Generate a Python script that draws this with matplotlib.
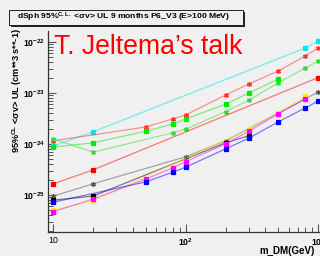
import matplotlib
matplotlib.use("Agg")
import matplotlib.pyplot as plt
from matplotlib.patches import Rectangle
import numpy as np

plt.rcParams['font.family'] = ['Liberation Sans', 'DejaVu Sans']
plt.rcParams['mathtext.fontset'] = 'custom'
plt.rcParams['mathtext.rm'] = 'Liberation Sans:bold'
plt.rcParams['mathtext.it'] = 'Liberation Sans:bold'
plt.rcParams['mathtext.bf'] = 'Liberation Sans:bold'

BG = '#f0f0f0'

# "data" (mass in GeV, UL in cm^3 s^-1)
cyan_x = [10, 20, 800, 1000]
cyan_y = [9.1e-25, 1.73e-24, 7.6e-23, 1.05e-22]

red_star_x = [10, 50, 80, 100, 200, 300, 500, 800, 1000]
red_star_y = [1.15e-24, 2.15e-24, 3.1e-24, 3.7e-24, 9.1e-24, 1.5e-23, 2.7e-23, 5.3e-23, 7.6e-23]

green_sq_x = [10, 20, 50, 80, 100, 200, 300, 500]
green_sq_y = [8.7e-25, 1.05e-24, 1.78e-24, 2.45e-24, 3.1e-24, 6.0e-24, 1.0e-23, 1.87e-23]

green_star_x = [10, 20, 80, 100, 200, 300, 500, 800, 1000]
green_star_y = [1.25e-24, 6.9e-25, 1.65e-24, 1.95e-24, 4.3e-24, 7.2e-24, 1.58e-23, 3.1e-23, 4.2e-23]

red_sq_x = [10, 20, 1000]
red_sq_y = [1.65e-25, 3.1e-25, 2.0e-23]

gray_star_x = [10, 20, 100, 200, 1000]
gray_star_y = [9.5e-26, 1.65e-25, 5.6e-25, 1.15e-24, 1.04e-23]

black_sq_x = [10, 20, 200, 300]
black_sq_y = [7.9e-26, 9.5e-26, 1.05e-24, 1.45e-24]

yellow_x = [10, 20, 300, 500, 800]
yellow_y = [5.1e-26, 7.6e-26, 1.95e-24, 4.1e-24, 8.7e-24]

magenta_x = [10, 20, 50, 80, 100, 200, 300, 500, 800]
magenta_y = [4.7e-26, 8.3e-26, 2.05e-25, 3.4e-25, 4.5e-25, 1.0e-24, 1.78e-24, 3.9e-24, 7.6e-24]

blue_x = [10, 50, 80, 100, 200, 300, 500, 800, 1000]
blue_y = [7.2e-26, 1.8e-25, 2.8e-25, 3.5e-25, 8.0e-25, 1.3e-24, 2.7e-24, 5.1e-24, 6.9e-24]

series = [
    (cyan_x, cyan_y, '#00e8e8', 's'),
    (red_star_x, red_star_y, '#ff3030', (6, 2, 0)),
    (green_sq_x, green_sq_y, '#00ee00', 's'),
    (green_star_x, green_star_y, '#30e030', (6, 2, 0)),
    (red_sq_x, red_sq_y, '#ff0000', 's'),
    (gray_star_x, gray_star_y, '#555555', (6, 2, 0)),
    (black_sq_x, black_sq_y, '#000000', 's'),
    (yellow_x, yellow_y, '#ffee00', 's'),
    (magenta_x, magenta_y, '#ff00ff', 's'),
    (blue_x, blue_y, '#0000ff', 's'),
]

fig = plt.figure(figsize=(3.2, 2.56), dpi=100, facecolor=BG)
ax = fig.add_axes([0.15, 0.094, 0.85, 0.785], facecolor=BG)

for xs, ys, c, m in series:
    ax.plot(xs, ys, color=c, lw=0.9, alpha=0.5)
    ms = 2.8 if m == 's' else 3.6
    ax.plot(xs, ys, ls='none', marker=m, color=c, ms=ms, mew=0.9)

ax.set_xscale('log')
ax.set_yscale('log')
ax.set_xlim(9.12, 10**3.014)
ax.set_ylim(1.88e-26, 1.64e-22)

ax.set_xticks([10, 100, 1000])
ax.set_xticklabels(['10', '$10^{2}$', '$10^{3}$'])
ax.set_yticks([1e-25, 1e-24, 1e-23, 1e-22])
ax.set_yticklabels(['$10^{-25}$', '$10^{-24}$', '$10^{-23}$', '$10^{-22}$'])

ax.tick_params(which='both', direction='in', colors='#555555', labelcolor='black',
               labelsize=6.3, top=False, right=False)
ax.tick_params(which='major', length=5.5, width=0.8)
ax.tick_params(which='minor', length=3.5, width=0.7)
ax.tick_params(axis='x', pad=3)
ax.tick_params(axis='y', pad=2)
for s in ['top', 'right']:
    ax.spines[s].set_visible(False)
for s in ['left', 'bottom']:
    ax.spines[s].set_color('#333333')
    ax.spines[s].set_linewidth(0.9)

# title box with shadow, ROOT style
fig.patches.append(Rectangle((11 / 320, 0.895), 234 / 320, 0.0586,
                             transform=fig.transFigure, facecolor='#222222',
                             edgecolor='none', zorder=1))
fig.patches.append(Rectangle((9 / 320, 0.903), 234 / 320, 0.0586,
                             transform=fig.transFigure, facecolor=BG,
                             edgecolor='#222222', lw=0.7, zorder=2))
fig.text(17 / 320, 0.932, 'dSph 95%$^{C.L.}$ <σv> UL 9 months P6_V3 (E>100 MeV)',
         fontsize=6.1, fontweight='bold', va='center', ha='left', zorder=3)

fig.text(54 / 320, 0.789, 'T. Jeltema’s talk', fontsize=19.2, color='#ff0000',
         ha='left', va='baseline')

fig.text(17 / 320, 0.89, '95%$^{CL}$ <σv> UL (cm**3 s**-1)', rotation=90,
         fontsize=6.6, fontweight='bold', ha='center', va='top')
fig.text(0.985, 0.0, 'm_DM(GeV)', fontsize=7, fontweight='bold',
         ha='right', va='bottom')

fig.savefig('out.png', dpi=100, facecolor=BG)
